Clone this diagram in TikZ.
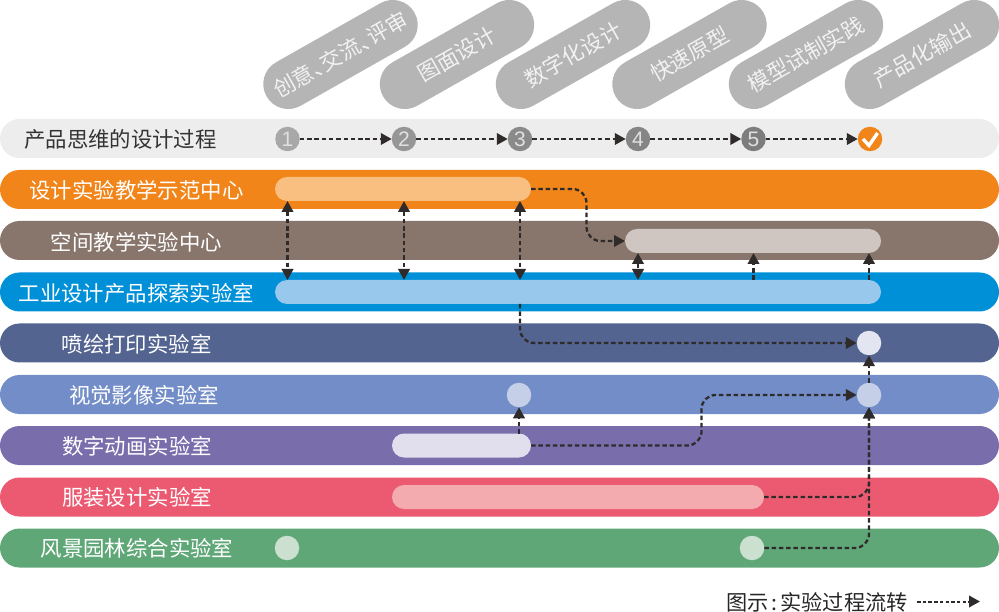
\documentclass[tikz,border=0pt]{standalone}
\usepackage{fontspec}
\setmainfont{Noto Sans CJK SC}
\newfontfamily\digitfont{Liberation Sans}
\usetikzlibrary{arrows.meta}
\definecolor{flowdark}{HTML}{2F2B2B}
\definecolor{pillgray}{HTML}{B5B5B5}
\tikzset{
  rowbar/.style={rectangle,rounded corners=19.5pt,minimum width=999pt,minimum height=39pt,inner sep=0pt,outer sep=0pt},
  innerbar/.style={rectangle,rounded corners=12pt,minimum height=24pt,inner sep=0pt,outer sep=0pt},
  rowdot/.style={circle,minimum size=24.5pt,inner sep=0pt,outer sep=0pt},
  rowtext/.style={text=white,font=\fontsize{21.4}{24}\selectfont,inner sep=0pt},
  headpill/.style={rectangle,rounded corners=25pt,rotate=29.5,fill=pillgray,text=white!95!black,
    minimum width=170pt,minimum height=50pt,inner sep=0pt,font=\fontsize{21.5}{24}\selectfont},
  stepdot/.style={circle,minimum size=24.5pt,inner sep=0pt,outer sep=0pt,text=white!88!black,font=\digitfont\fontsize{21}{21}\selectfont},
  flow/.style={draw=flowdark,line width=2.3pt,dash pattern=on 4.5pt off 2.8pt,rounded corners=14pt,
    >={Triangle[length=11pt,width=11.5pt]}}
}
\begin{document}
\begin{tikzpicture}[x=1pt,y=-1pt]
    \useasboundingbox (0,0) rectangle (999,612);

    \node[headpill] (headA) at (340.5,54.5) {创意、\kern-.5em 交流、\kern-.5em 评审};
    \node[headpill] (headB) at (457,54.5) {图面设计};
    \node[headpill] (headC) at (573,54.5) {数字化设计};
    \node[headpill] (headD) at (689.5,54.5) {快速原型};
    \node[headpill] (headE) at (806,54.5) {模型试制实践};
    \node[headpill] (headF) at (922,54.5) {产品化输出};

    \node[rowbar,fill=black!7] (sxbar) at (499.5,138.5) {};
    \node[rowbar,fill={rgb,255:red,241;green,133;blue,25}] (sjbar) at (499.5,189.5) {};
    \node[rowbar,fill={rgb,255:red,136;green,118;blue,109}] (kjbar) at (499.5,240.5) {};
    \node[rowbar,fill={rgb,255:red,0;green,144;blue,216}] (gybar) at (499.5,292) {};
    \node[rowbar,fill={rgb,255:red,83;green,100;blue,144}] (phbar) at (499.5,343) {};
    \node[rowbar,fill={rgb,255:red,114;green,141;blue,199}] (spbar) at (499.5,394.5) {};
    \node[rowbar,fill={rgb,255:red,122;green,109;blue,172}] (dhbar) at (499.5,445.5) {};
    \node[rowbar,fill={rgb,255:red,236;green,90;blue,114}] (fzbar) at (499.5,497) {};
    \node[rowbar,fill={rgb,255:red,95;green,167;blue,119}] (ylbar) at (499.5,548) {};

    \node[rowtext,text=black!80] (sxtext) at (120.5,139.5) {产品思维的设计过程};
    \node[rowtext] (sjtext) at (136.5,190.5) {设计实验教学示范中心};
    \node[rowtext] (kjtext) at (136.5,242) {空间教学实验中心};
    \node[rowtext] (gytext) at (136.5,293) {工业设计产品探索实验室};
    \node[rowtext] (phtext) at (136.5,344) {喷绘打印实验室};
    \node[rowtext] (sptext) at (144,395.5) {视觉影像实验室};
    \node[rowtext] (dhtext) at (137,446.5) {数字动画实验室};
    \node[rowtext] (fztext) at (137,497.5) {服装设计实验室};
    \node[rowtext] (yltext) at (137,548.5) {风景园林综合实验室};

    \node[stepdot,fill=black!34] (stepA) at (287.5,139) {1};
    \node[stepdot,fill=black!41] (stepB) at (404,139) {2};
    \node[stepdot,fill=black!46] (stepC) at (520,139) {3};
    \node[stepdot,fill=black!48] (stepD) at (638,139) {4};
    \node[stepdot,fill=black!51] (stepE) at (753.5,139) {5};
    \node[stepdot,fill={rgb,255:red,241;green,133;blue,25}] (stepF) at (870,139) {};
    \draw[white,line width=3.4pt] (stepF.center) ++(-7,0) -- ++(6,6.5) -- ++(8.5,-12.5);

    \node[innerbar,fill={rgb,255:red,248;green,191;blue,129},minimum width=256pt] (sjin) at (403,189) {};
    \node[innerbar,fill={rgb,255:red,207;green,198;blue,193},minimum width=256pt] (kjin) at (753,241) {};
    \node[innerbar,fill={rgb,255:red,152;green,200;blue,236},minimum width=606pt] (gyin) at (578,292) {};
    \node[innerbar,fill={rgb,255:red,225;green,223;blue,238},minimum width=139pt] (dhin) at (461.5,445.5) {};
    \node[innerbar,fill={rgb,255:red,244;green,171;blue,175},minimum width=372pt] (fzin) at (578,497) {};

    \node[rowdot,fill={rgb,255:red,227;green,229;blue,240}] (phdot) at (869,343) {};
    \node[rowdot,fill={rgb,255:red,197;green,207;blue,232}] (spdotA) at (519,395) {};
    \node[rowdot,fill={rgb,255:red,197;green,207;blue,232}] (spdotB) at (869,395) {};
    \node[rowdot,fill={rgb,255:red,203;green,224;blue,206}] (yldotA) at (287,548) {};
    \node[rowdot,fill={rgb,255:red,203;green,224;blue,206}] (yldotB) at (752,548) {};

    \draw[flow,->] (stepA) -- (stepB);
    \draw[flow,->] (stepB) -- (stepC);
    \draw[flow,->] (stepC) -- (stepD);
    \draw[flow,->] (stepD) -- (stepE);
    \draw[flow,->] (stepE) -- (stepF);

    \draw[flow,<->] (stepA |- sjin.south) -- (stepA |- gyin.north);
    \draw[flow,<->] (stepB |- sjin.south) -- (stepB |- gyin.north);
    \draw[flow,<->] (stepC |- sjin.south) -- (stepC |- gyin.north);
    \draw[flow,<->] (stepD |- kjin.south) -- (stepD |- gyin.north);
    \draw[flow,->] (stepE |- gyin.north) -- (stepE |- kjin.south);
    \draw[flow,->] (spdotB |- gyin.north) -- (spdotB |- kjin.south);

    \draw[flow,->] (sjin.east) -- ++(55.5,0) |- (kjin.west);
    \draw[flow,->] (stepC |- gyin.south) |- (phdot.west);
    \draw[flow,->] (spdotB) -- (phdot);
    \draw[flow,->] (spdotA |- dhin.north) -- (spdotA);
    \draw[flow,->] (dhin.east) -- ++(170.5,0) |- (spdotB.west);
    \draw[flow,->] (fzin.east) -| (spdotB.south);
    \draw[flow,->] (yldotB.east) -| (spdotB.south);

    \node[inner sep=0pt,text=black!85,font=\fontsize{21.2}{24}\selectfont,anchor=west] (legend) at (726,602)
      {图示\kern3pt:\kern3pt 实验过程流转};
    \coordinate (legendA) at (917,601.5);
    \coordinate (legendB) at (980,601.5);
    \draw[flow,->,line width=2pt,dash pattern=on 3.5pt off 2.2pt] (legendA) -- (legendB);
  \end{tikzpicture}
\end{document}
